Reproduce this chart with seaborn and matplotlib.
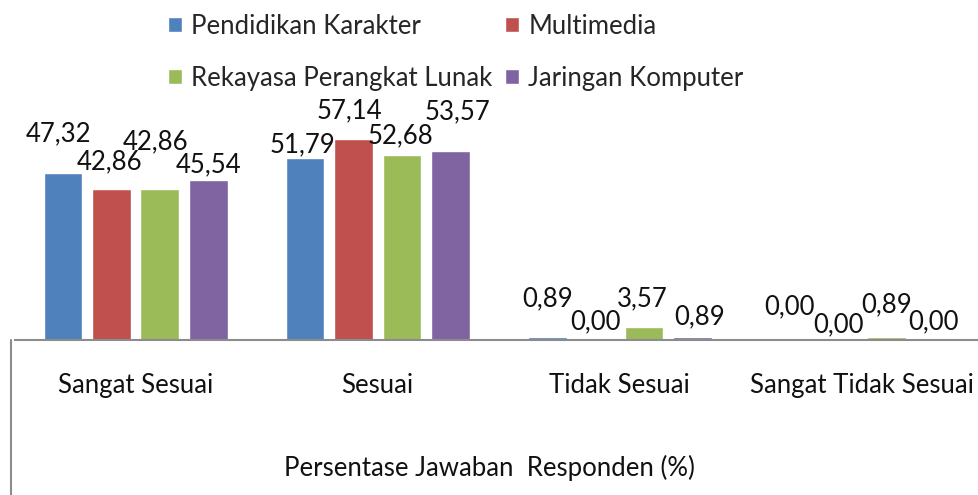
import matplotlib
matplotlib.use("Agg")
import matplotlib.pyplot as plt
import seaborn as sns
import pandas as pd
from matplotlib.lines import Line2D

categories = ["Sangat Sesuai", "Sesuai", "Tidak Sesuai", "Sangat Tidak Sesuai"]
series = ["Pendidikan Karakter", "Multimedia", "Rekayasa Perangkat Lunak", "Jaringan Komputer"]
pendidikan = [47.32, 51.79, 0.89, 0.00]
multimedia = [42.86, 57.14, 0.00, 0.00]
rpl = [42.86, 52.68, 3.57, 0.89]
jaringan = [45.54, 53.57, 0.89, 0.00]
colors = ["#4F81BD", "#C0504D", "#9BBB59", "#8064A2"]
xlabel = "Persentase Jawaban  Responden (%)"

# label offsets (pixels) above bar tops, per series per category (style)
label_dy = [[40, 13, 38, 33], [27, 28, 18, 15], [47, 19, 29, 32], [15, 40, 20, 18]]
label_dx = [[-4, -3, 0, 0], [-2, -4, 0, 1], [-4, -1, -2, 0], [0, 7, 7, -1]]

values = [pendidikan, multimedia, rpl, jaringan]
rows = []
for s, vals in zip(series, values):
    for c, v in zip(categories, vals):
        rows.append({"Kategori": c, "Jurusan": s, "Nilai": v})
df = pd.DataFrame(rows)

sns.set_style("white")
plt.rcParams["font.family"] = ["Lato", "DejaVu Sans"]
FS = 18.5

fig = plt.figure(figsize=(9.79, 4.95), dpi=100)
W, H = 979, 495
ax = fig.add_axes([14.5 / W, 155 / H, (983 - 14.5) / W, 340 / H])

sns.barplot(data=df, x="Kategori", y="Nilai", hue="Jurusan", order=categories,
            hue_order=series, palette=colors, gap=0.2, width=0.8, ax=ax,
            saturation=1, legend=True, errorbar=None)

ax.set_ylim(0, 96.6)
ax.set_xlim(-0.5, 3.5)
ax.set_yticks([])
ax.set_ylabel("")
for sp in ["top", "right", "left"]:
    ax.spines[sp].set_visible(False)
ax.spines["bottom"].set_color("#8c8c8c")
ax.spines["bottom"].set_linewidth(1.5)
ax.tick_params(axis="x", length=0, pad=24, labelsize=FS, labelcolor="#111111")

ax.set_xlabel(xlabel, fontsize=FS, color="#111111")
ax.xaxis.set_label_coords(0.49, -115 / 340)

for si, cont in enumerate(ax.containers):
    for ci, bar in enumerate(cont):
        v = values[si][ci]
        ax.annotate(f"{v:.2f}".replace(".", ","),
                    (bar.get_x() + bar.get_width() / 2, bar.get_height()),
                    xytext=(label_dx[si][ci], label_dy[si][ci]), textcoords="offset pixels",
                    ha="center", va="center", fontsize=FS, color="#111111")

handles, labels = ax.get_legend_handles_labels()
ax.get_legend().remove()
order = [0, 2, 1, 3]
fig.legend([handles[i] for i in order], [labels[i] for i in order], ncol=2,
           loc="upper left", bbox_to_anchor=(155 / W, 1 - 1 / H),
           frameon=False, fontsize=FS, handlelength=0.55, handleheight=0.55,
           handletextpad=0.35, columnspacing=0.5, labelspacing=1.05, borderpad=0)

fig.add_artist(Line2D([11 / W, 11 / W], [0, 155 / H], color="#8c8c8c", linewidth=1.5,
                      transform=fig.transFigure))

fig.savefig("out.png", dpi=100)
